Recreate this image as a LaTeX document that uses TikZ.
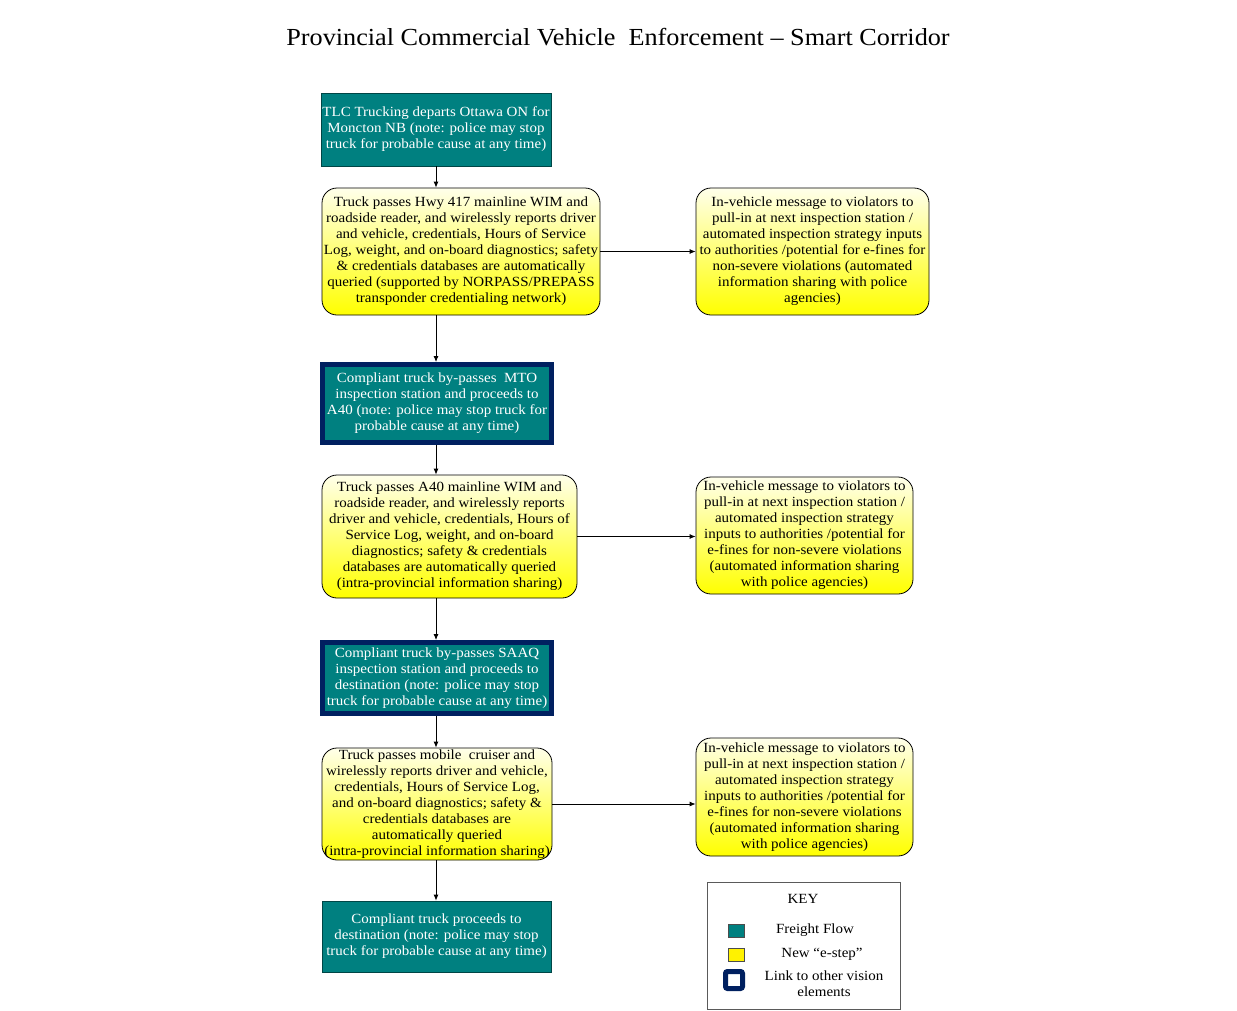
\documentclass[tikz,border=0pt]{standalone}
\usepackage{fontspec}
\setmainfont[FakeStretch=1.07]{Liberation Serif}
\usetikzlibrary{arrows.meta,calc}
\definecolor{tealc}{RGB}{0,128,128}
\definecolor{tealedge}{RGB}{0,70,70}
\definecolor{navyc}{RGB}{0,32,96}
\definecolor{keyedge}{RGB}{90,90,90}
\tikzset{
  boxfont/.style={font=\fontsize{14}{16}\selectfont},
  tealbox/.style={boxfont, rectangle, fill=tealc, draw=tealedge, line width=0.8pt, text=white, align=center, inner sep=0pt},
  linkbox/.style={tealbox, draw=navyc, line width=5pt},
  ebox/.style={boxfont, rectangle, rounded corners=15pt, draw=black, line width=0.8pt, top color=yellow!8, middle color=yellow!55, bottom color=yellow, align=center, inner sep=0pt},
  flow/.style={draw=black, line width=0.8pt, -{Latex[length=6pt,width=5pt]}},
  swatch/.style={rectangle, draw=black!70, line width=0.6pt, minimum width=16pt, minimum height=13pt, inner sep=0pt},
  keytext/.style={boxfont, align=center, inner sep=0pt}
}
\begin{document}
\begin{tikzpicture}[x=1pt,y=-1pt]
\useasboundingbox (0,0) rectangle (1237,1010);
\node[font=\fontsize{24.5}{28}\selectfont, inner sep=0pt] (title) at (618,37) {Provincial Commercial Vehicle~ Enforcement -- Smart Corridor};

\node[tealbox, minimum width=230, minimum height=73] (b1) at (436,129.5)
 {TLC Trucking departs Ottawa ON for\\Moncton NB (note: police may stop\\truck for probable cause at any time)};

\node[ebox, minimum width=278, minimum height=127] (b2) at (461,251.5)
 {Truck passes Hwy 417 mainline WIM and\\roadside reader, and wirelessly reports driver\\and vehicle, credentials, Hours of Service\\Log, weight, and on-board diagnostics; safety\\\& credentials databases are automatically\\queried (supported by NORPASS/PREPASS\\transponder credentialing network)};

\node[ebox, minimum width=233, minimum height=127] (b3) at (812.5,251.5)
 {In-vehicle message to violators to\\pull-in at next inspection station /\\automated inspection strategy inputs\\to authorities /potential for e-fines for\\non-severe violations (automated\\information sharing with police\\agencies)};

\node[linkbox, minimum width=229, minimum height=78] (b4) at (437,403.5)
 {Compliant truck by-passes~ MTO\\inspection station and proceeds to\\A40 (note: police may stop truck for\\probable cause at any time)};

\node[ebox, minimum width=255, minimum height=123] (b5) at (449.5,536.5)
 {Truck passes A40 mainline WIM and\\roadside reader, and wirelessly reports\\driver and vehicle, credentials, Hours of\\Service Log, weight, and on-board\\diagnostics; safety \& credentials\\databases are automatically queried\\(intra-provincial information sharing)};

\node[ebox, minimum width=217, minimum height=117] (b6) at (804.5,535.5)
 {In-vehicle message to violators to\\pull-in at next inspection station /\\automated inspection strategy\\inputs to authorities /potential for\\e-fines for non-severe violations\\(automated information sharing\\with police agencies)};

\node[linkbox, minimum width=229, minimum height=71] (b7) at (437,678)
 {Compliant truck by-passes SAAQ\\inspection station and proceeds to\\destination (note: police may stop\\truck for probable cause at any time)};

\node[ebox, minimum width=230, minimum height=112] (b8) at (437,804)
 {Truck passes mobile~ cruiser and\\wirelessly reports driver and vehicle,\\credentials, Hours of Service Log,\\and on-board diagnostics; safety \&\\credentials databases are\\automatically queried\\(intra-provincial information sharing)};

\node[ebox, minimum width=217, minimum height=118] (b9) at (804.5,797)
 {In-vehicle message to violators to\\pull-in at next inspection station /\\automated inspection strategy\\inputs to authorities /potential for\\e-fines for non-severe violations\\(automated information sharing\\with police agencies)};

\node[tealbox, minimum width=229, minimum height=71] (b10) at (436.5,936.5)
 {Compliant truck proceeds to\\destination (note: police may stop\\truck for probable cause at any time)};

% connectors
\draw[flow] (b1.south) -- (b2.north -| b1.south);
\draw[flow] (b2.east) -- (b3.west);
\draw[flow] (b2.south -| b1.south) -- (b4.north -| b1.south);
\draw[flow] (b4.south -| b1.south) -- (b5.north -| b1.south);
\draw[flow] (b5.east) -- (b5.east -| b6.west);
\draw[flow] (b5.south -| b1.south) -- (b7.north -| b1.south);
\draw[flow] (b7.south -| b1.south) -- (b8.north -| b1.south);
\draw[flow] (b8.east) -- (b8.east -| b9.west);
\draw[flow] (b8.south -| b1.south) -- (b10.north -| b1.south);

% key
\node[rectangle, draw=keyedge, line width=0.8pt, fill=white, minimum width=193, minimum height=127, inner sep=0pt] (key) at (803.5,945.5) {};
\node[keytext] (keyt) at (803,899) {KEY};
\node[swatch, fill=tealc] (k1) at (736,930.5) {};
\node[keytext] (k1t) at (815,930) {Freight Flow};
\node[swatch, fill=yellow] (k2) at (736,954.5) {};
\node[keytext] (k2t) at (822,954) {New ``e-step''};
\node[rectangle, draw=navyc, line width=5pt, fill=white, rounded corners=2pt, minimum width=17pt, minimum height=17pt, inner sep=0pt] (k3) at (734,980) {};
\node[keytext] (k3t) at (824,984) {Link to other vision\\elements};
\end{tikzpicture}
\end{document}
